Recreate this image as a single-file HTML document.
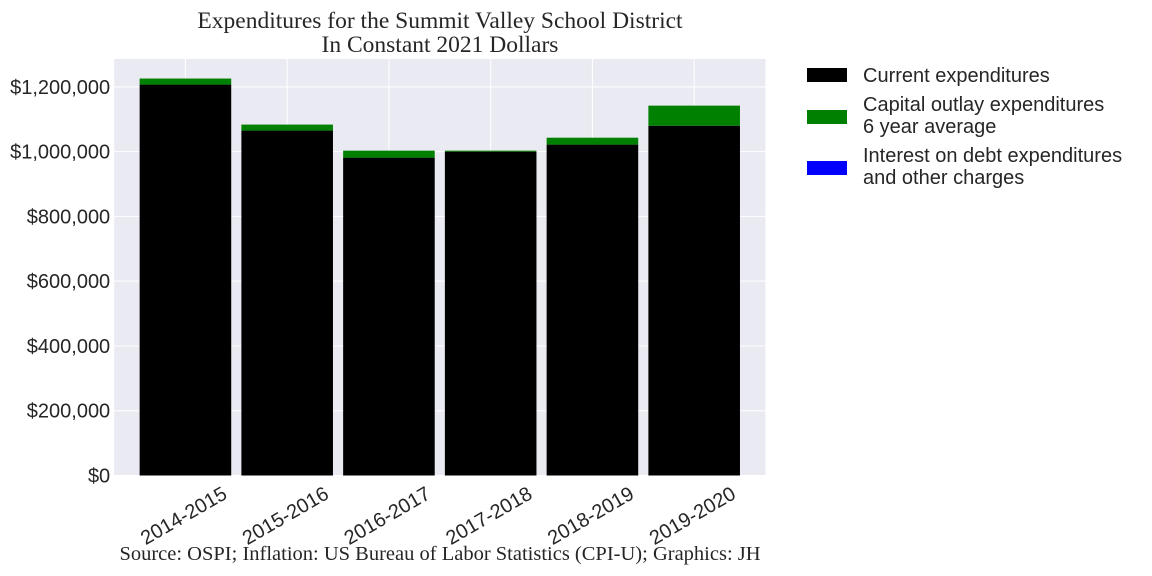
<!DOCTYPE html>
<html><head><meta charset="utf-8"><style>
html,body{margin:0;padding:0;background:#fff;}
svg{display:block;}
</style></head><body>
<svg id="chart" width="1152" height="576" xmlns="http://www.w3.org/2000/svg">
<text x="440" y="28" text-anchor="middle" font-family="Liberation Serif, serif" font-size="23.5" fill="#262626">Expenditures for the Summit Valley School District</text>
<text x="440" y="52" text-anchor="middle" font-family="Liberation Serif, serif" font-size="23.5" fill="#262626">In Constant 2021 Dollars</text>
<rect x="114.2" y="59" width="651.2" height="416.5" fill="#eaeaf2"/>
<g id="grid"></g>
<g id="bars"></g>
<g id="yticks"></g>
<g id="xticks"></g>
<g font-family="Liberation Sans, sans-serif" font-size="20" fill="#262626">
<rect x="807" y="68" width="40" height="14" fill="#000"/>
<text x="863" y="82">Current expenditures</text>
<rect x="807" y="110" width="40" height="14" fill="#008000"/>
<text x="863" y="111">Capital outlay expenditures</text>
<text x="863" y="133">6 year average</text>
<rect x="807" y="161" width="40" height="14" fill="#0000ff"/>
<text x="863" y="162">Interest on debt expenditures</text>
<text x="863" y="184">and other charges</text>
</g>
<text x="440" y="560" text-anchor="middle" font-family="Liberation Serif, serif" font-size="20.5" fill="#262626">Source: OSPI; Inflation: US Bureau of Labor Statistics (CPI-U); Graphics: JH</text>
</svg>
<script>
const categories = ["2014-2015","2015-2016","2016-2017","2017-2018","2018-2019","2019-2020"];
const currentExp = [1207000,1065000,981500,1000000,1021700,1080000];
const capitalExp = [18700,18500,21500,3000,21300,62000];
const interestExp = [0,0,0,0,0,0];
const yTicks = [0,200000,400000,600000,800000,1000000,1200000];
const yTickLabels = ["$0","$200,000","$400,000","$600,000","$800,000","$1,000,000","$1,200,000"];

const NS="http://www.w3.org/2000/svg";
const X0=114.2, X1=765.4, Y0=475.5, Y1=59;
const xmin=-0.7, xmax=5.7, ymax=1286000;
function xs(i){return X0+(i-xmin)/(xmax-xmin)*(X1-X0);}
function ys(v){return Y0-v/ymax*(Y0-Y1);}
function mk(tag,attrs,parent){const e=document.createElementNS(NS,tag);for(const k in attrs)e.setAttribute(k,attrs[k]);parent.appendChild(e);return e;}
const grid=document.getElementById('grid'),bars=document.getElementById('bars'),yt=document.getElementById('yticks'),xt=document.getElementById('xticks');
yTicks.forEach((v,i)=>{
  const l=mk('line',{x1:X0,x2:X1,y1:ys(v),y2:ys(v),stroke:'#fff','stroke-width':1},grid);
  
  
  const t=mk('text',{x:X0-4,y:ys(v)+7,'text-anchor':'end','font-family':'Liberation Sans, sans-serif','font-size':20,fill:'#262626'},yt);
  t.textContent=yTickLabels[i];
  
  
});
const bw=0.9*(xs(1)-xs(0));
categories.forEach((c,i)=>{
  const cx=xs(i);
  const l=mk('line',{x1:cx,x2:cx,y1:Y1,y2:Y0,stroke:'#fff','stroke-width':1},grid);
  
  
  const b=mk('rect',{x:cx-bw/2,y:ys(currentExp[i]),width:bw,height:Y0-ys(currentExp[i]),fill:'#000'},bars);
  
  
  const top=currentExp[i]+capitalExp[i];
  const g=mk('rect',{x:cx-bw/2,y:ys(top),width:bw,height:ys(currentExp[i])-ys(top),fill:'#008000'},bars);
  
  
  const top2=top+interestExp[i];
  const bl=mk('rect',{x:cx-bw/2,y:ys(top2),width:bw,height:ys(top)-ys(top2),fill:'#0000ff'},bars);
  
  
  const t=mk('text',{x:cx+43,y:Y0+22,'text-anchor':'end','font-family':'Liberation Sans, sans-serif','font-size':20,fill:'#262626',transform:'rotate(-30 '+(cx+43)+' '+(Y0+22)+')'},xt);
  t.textContent=c;
  
  
});
</script>
</body></html>
